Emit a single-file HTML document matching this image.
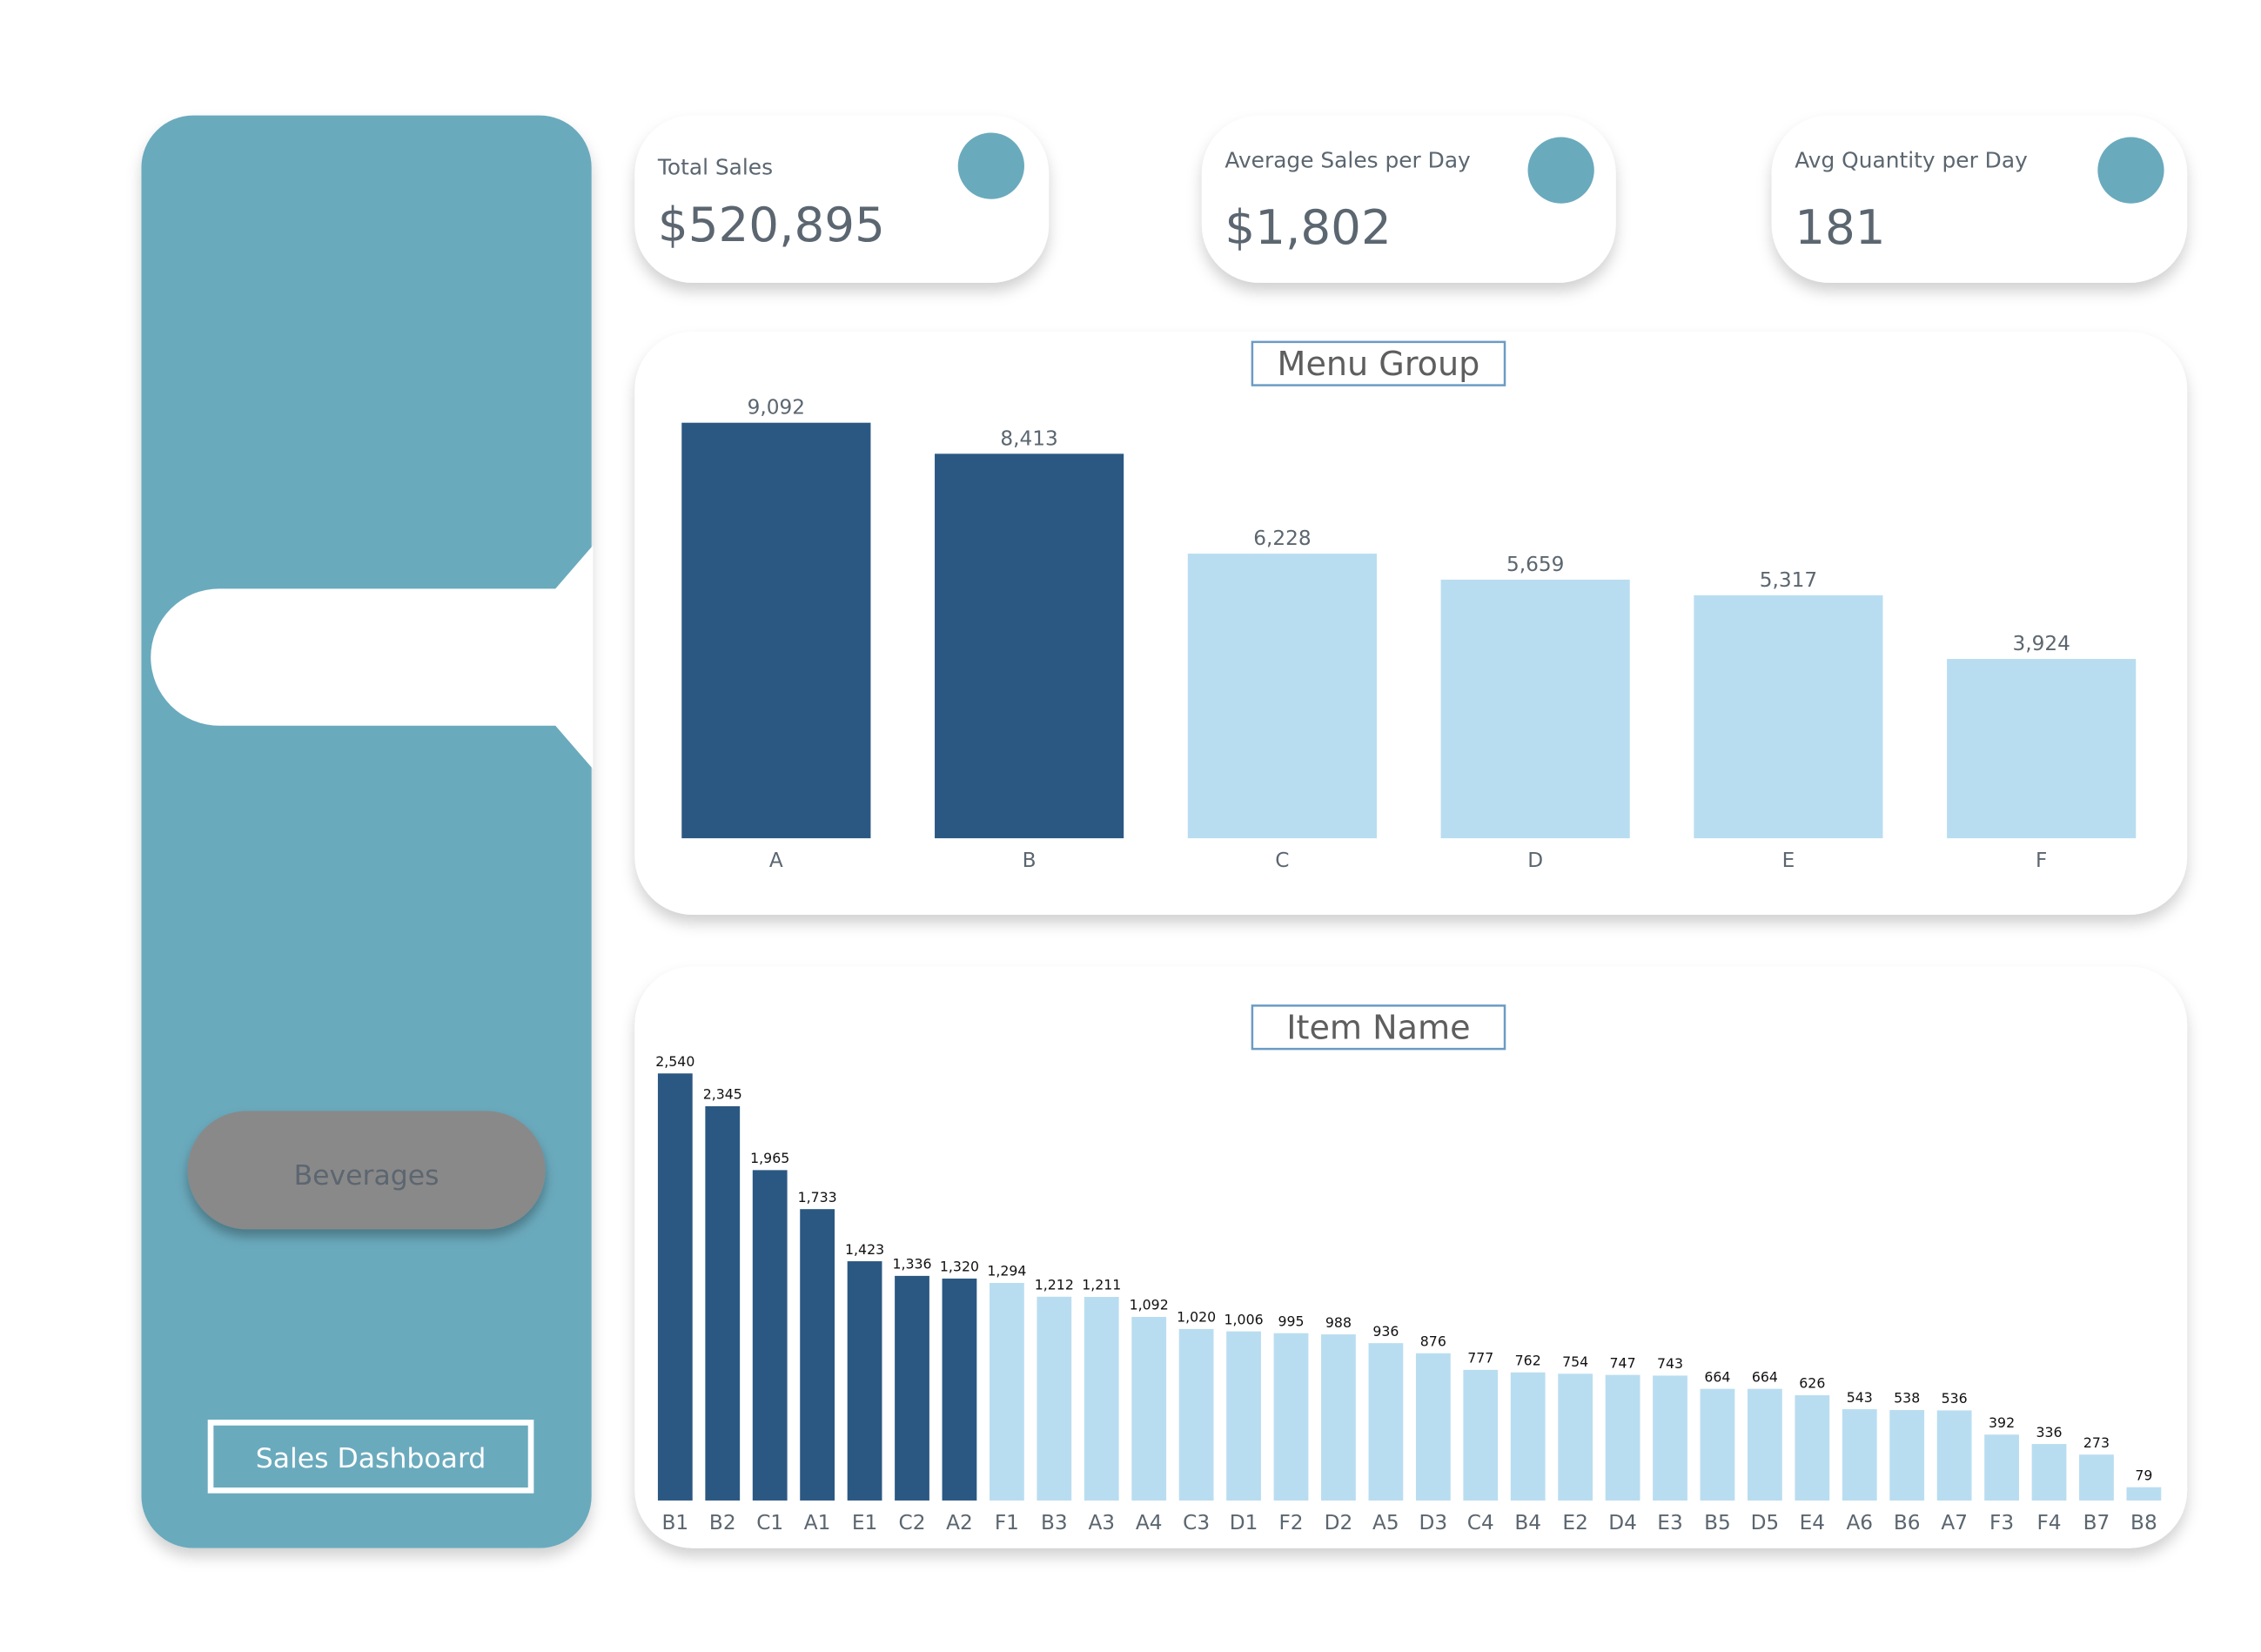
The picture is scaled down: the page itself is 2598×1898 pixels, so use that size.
<!DOCTYPE html>
<html><head><meta charset="utf-8"><style>
html,body{margin:0;padding:0;background:#fff;}
svg{display:block;font-family:"DejaVu Sans","Liberation Sans",sans-serif;}
</style></head><body>
<svg id="root" width="2598" height="1898" viewBox="0 0 1567.2 1145" preserveAspectRatio="none" xmlns="http://www.w3.org/2000/svg">
<defs>
<filter id="sh" x="-10%" y="-10%" width="120%" height="130%"><feDropShadow dx="0" dy="6" stdDeviation="5" flood-color="#000" flood-opacity="0.18"/></filter>
<filter id="sh2" x="-10%" y="-10%" width="120%" height="130%"><feDropShadow dx="0" dy="5" stdDeviation="4" flood-color="#000" flood-opacity="0.3"/></filter>
</defs>
<rect x="0" y="0" width="1567.2" height="1145" fill="#fff"/>
<g>
<rect x="98" y="80" width="312" height="993" rx="36" fill="#6aaabd" filter="url(#sh)"/>
<path d="M152,408 L385,408 L411,378 L411,533 L385,503 L152,503 A47.5,47.5 0 0 1 152,408 Z" fill="#fff"/>
<g>
<rect x="130" y="770" width="248" height="82" rx="41" fill="#898989" filter="url(#sh2)"/>
<text x="254" y="821" font-size="19" fill="#5c6670" text-anchor="middle">Beverages</text>
</g>
<g>
<rect x="146" y="986" width="222" height="47" fill="#6aaabd" stroke="#fff" stroke-width="4"/>
<text x="257" y="1017" font-size="19" fill="#fff" text-anchor="middle">Sales Dashboard</text>
</g>
</g>
<g>
<rect x="440" y="80" width="287" height="116" rx="40" fill="#fff" filter="url(#sh)"/>
<ellipse cx="687" cy="115" rx="23" ry="23" fill="#6aaabd"/>
<text x="456" y="121" font-size="15" fill="#5b6670">Total Sales</text>
<text x="456" y="167" font-size="33" fill="#5b6670">$520,895</text>
</g>
<g>
<rect x="833" y="80" width="287" height="116" rx="40" fill="#fff" filter="url(#sh)"/>
<ellipse cx="1082" cy="118" rx="23" ry="23" fill="#6aaabd"/>
<text x="849" y="116" font-size="15" fill="#5b6670">Average Sales per Day</text>
<text x="849" y="169" font-size="33" fill="#5b6670">$1,802</text>
</g>
<g>
<rect x="1228" y="80" width="288" height="116" rx="40" fill="#fff" filter="url(#sh)"/>
<ellipse cx="1477" cy="118" rx="23" ry="23" fill="#6aaabd"/>
<text x="1244" y="116" font-size="15" fill="#5b6670">Avg Quantity per Day</text>
<text x="1244" y="169" font-size="33" fill="#5b6670">181</text>
</g>
<g>
<rect x="440" y="230" width="1076" height="404" rx="40" fill="#fff" filter="url(#sh)"/>
<rect x="868" y="237" width="175" height="30" fill="#fff" stroke="#6b9bc4" stroke-width="1.5"/>
<text x="955.5" y="260" font-size="23" fill="#5e5e5e" text-anchor="middle">Menu Group</text>
<g id="menuBars"></g>
</g>
<g>
<rect x="440" y="670" width="1076" height="403" rx="40" fill="#fff" filter="url(#sh)"/>
<rect x="868" y="697" width="175" height="30" fill="#fff" stroke="#6b9bc4" stroke-width="1.5"/>
<text x="955.5" y="720" font-size="23" fill="#5e5e5e" text-anchor="middle">Item Name</text>
<g id="itemBars"></g>
</g>
</svg>
<script>
const menuCats = ["A","B","C","D","E","F"];
const menuVals = [9092,8413,6228,5659,5317,3924];
const menuHighlight = [true,true,false,false,false,false];
const itemCats = ["B1","B2","C1","A1","E1","C2","A2","F1","B3","A3","A4","C3","D1","F2","D2","A5","D3","C4","B4","E2","D4","E3","B5","D5","E4","A6","B6","A7","F3","F4","B7","B8"];
const itemVals = [2540,2345,1965,1733,1423,1336,1320,1294,1212,1211,1092,1020,1006,995,988,936,876,777,762,754,747,743,664,664,626,543,538,536,392,336,273,79];
const itemHighlight = [true,true,true,true,true,true,true,false,false,false,false,false,false,false,false,false,false,false,false,false,false,false,false,false,false,false,false,false,false,false,false,false];
const NS="http://www.w3.org/2000/svg";
function mk(tag,attrs,parent){const e=document.createElementNS(NS,tag);for(const k in attrs)e.setAttribute(k,attrs[k]);parent.appendChild(e);return e;}
function fmt(v){return v.toLocaleString("en-US");}
(function(){
  const g=document.getElementById("menuBars");
  const x0=538, step=175.4, bw=131, base=581, maxH=288, maxV=9092;
  const y=v=>base - v/maxV*maxH;
  menuCats.forEach((c,i)=>{
    const cx=x0+i*step;
    const r=mk("rect",{x:cx-bw/2,y:y(menuVals[i]),width:bw,height:base-y(menuVals[i]),fill:menuHighlight[i]?"#2b5882":"#b9ddf0"},g);
    
    
    const t=mk("text",{x:cx,y:y(menuVals[i])-6,"font-size":14,fill:"#5b6670","text-anchor":"middle"},g);t.textContent=fmt(menuVals[i]);
    
    
    const l=mk("text",{x:cx,y:601,"font-size":14,fill:"#5b6670","text-anchor":"middle"},g);l.textContent=c;
    
    
  });
})();
(function(){
  const g=document.getElementById("itemBars");
  const x0=468, step=(1486-468)/31, bw=24, base=1040, maxH=296, maxV=2540;
  const y=v=>base - v/maxV*maxH;
  itemCats.forEach((c,i)=>{
    const cx=x0+i*step;
    const r=mk("rect",{x:cx-bw/2,y:y(itemVals[i]),width:bw,height:base-y(itemVals[i]),fill:itemHighlight[i]?"#2b5882":"#b9ddf0"},g);
    
    
    const t=mk("text",{x:cx,y:y(itemVals[i])-5,"font-size":9.5,fill:"#111","text-anchor":"middle"},g);t.textContent=fmt(itemVals[i]);
    
    
    const l=mk("text",{x:cx,y:1060,"font-size":14,fill:"#5b6670","text-anchor":"middle"},g);l.textContent=c;
    
    
  });
})();
</script>
</body></html>
